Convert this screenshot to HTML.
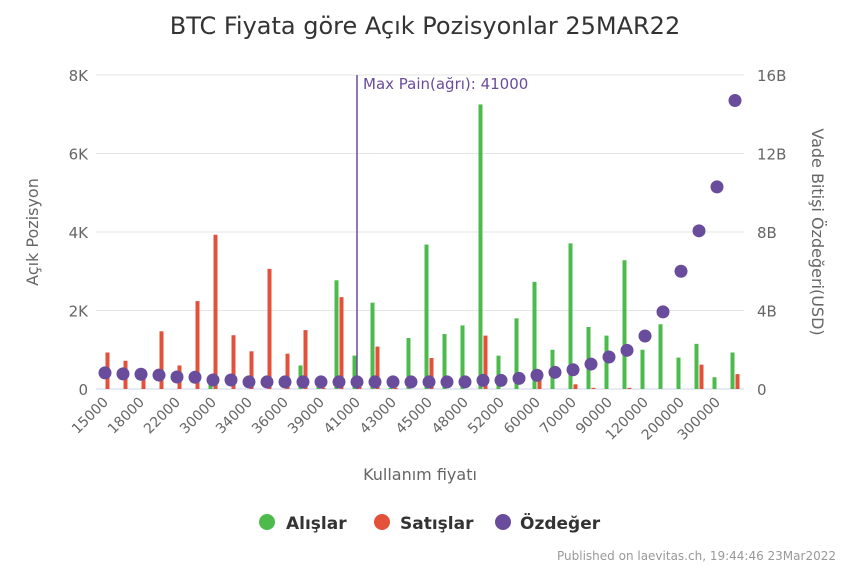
<!DOCTYPE html>
<html><head><meta charset="utf-8"><style>
body{margin:0;background:#fff;font-family:"Liberation Sans","DejaVu Sans",sans-serif;}
svg text{font-family:"DejaVu Sans","Liberation Sans",sans-serif;}
</style></head><body>
<svg id="c" width="850" height="567" xmlns="http://www.w3.org/2000/svg">
<text x="425" y="34" text-anchor="middle" font-size="24" fill="#333">BTC Fiyata göre Açık Pozisyonlar 25MAR22</text>
<g id="grid"></g><g id="bars"></g><g id="dots"></g><g id="axes"></g>
<text transform="translate(38,232) rotate(-90)" text-anchor="middle" font-size="16" fill="#666">Açık Pozisyon</text>
<text transform="translate(812,232) rotate(90)" text-anchor="middle" font-size="16" fill="#666">Vade Bitişi Özdeğeri(USD)</text>
<text x="420" y="480" text-anchor="middle" font-size="16" fill="#666">Kullanım fiyatı</text>
<g>
<g><circle cx="267" cy="522" r="8" fill="#4cbb4c"/><text x="286" y="529" font-size="17" font-weight="bold" fill="#333">Alışlar</text></g>
<g><circle cx="382" cy="522" r="8" fill="#e4513a"/><text x="400" y="529" font-size="17" font-weight="bold" fill="#333">Satışlar</text></g>
<g><circle cx="503" cy="522" r="8" fill="#6a4c9c"/><text x="520" y="529" font-size="17" font-weight="bold" fill="#333">Özdeğer</text></g>
</g>
<text x="836" y="560" text-anchor="end" font-size="12" fill="#999">Published on laevitas.ch, 19:44:46 23Mar2022</text>
</svg>
<script>
const categories=[15000,16000,18000,20000,22000,25000,30000,32000,34000,35000,36000,38000,39000,40000,41000,42000,43000,44000,45000,46000,48000,50000,52000,55000,60000,65000,70000,80000,90000,100000,120000,150000,200000,250000,300000,400000];
const buys=[0,0,0,0,0,0,100,0,0,0,0,600,50,2770,850,2200,30,1300,3680,1400,1620,7250,850,1800,2730,1000,3710,1580,1360,3280,1000,1650,800,1150,300,930];
const sells=[930,720,300,1470,600,2240,3930,1370,960,3060,900,1500,30,2340,50,1080,30,0,790,0,0,1360,0,0,300,0,120,30,0,30,0,0,0,620,0,380];
const notional=[0.82,0.77,0.75,0.71,0.61,0.6,0.46,0.46,0.36,0.36,0.36,0.36,0.36,0.36,0.36,0.36,0.36,0.36,0.36,0.36,0.36,0.44,0.44,0.54,0.7,0.85,0.98,1.27,1.63,1.97,2.7,3.93,6.0,8.06,10.3,14.7];
const leftTicks=[0,2000,4000,6000,8000];
const leftLabels=["0","2K","4K","6K","8K"];
const rightTicks=[0,4,8,12,16];
const rightLabels=["0","4B","8B","12B","16B"];
const maxPainIndex=14;
const NS="http://www.w3.org/2000/svg";
const x0=96,x1=744,yTop=75,yBot=389;
const step=(x1-x0)/categories.length;
const xc=i=>x0+step*(i+0.5);
const yL=v=>yBot-(v/8000)*(yBot-yTop);
const yR=v=>yBot-(v/16)*(yBot-yTop);
function mk(tag,attrs,parent){const e=document.createElementNS(NS,tag);for(const k in attrs)e.setAttribute(k,attrs[k]);document.getElementById(parent).appendChild(e);return e;}
leftTicks.forEach((t,i)=>{
 const l=mk('line',{x1:x0,x2:x1,y1:yL(t),y2:yL(t),stroke:i==0?'#ccd6eb':'#e6e6e6','stroke-width':1},'grid');
 
 
 const tx=mk('text',{x:88,y:yL(t)+6,'text-anchor':'end','font-size':15,fill:'#666'},'axes');tx.textContent=leftLabels[i];
 
 
});
rightTicks.forEach((t,i)=>{
 const tx=mk('text',{x:757,y:yR(t)+6,'font-size':15,fill:'#666'},'axes');tx.textContent=rightLabels[i];
 
 
});
categories.forEach((c,i)=>{
 if(i%2==0){
  const tx=mk('text',{transform:`translate(${xc(i)+4},${yBot+14}) rotate(-45)`,'text-anchor':'end','font-size':14,fill:'#666'},'axes');tx.textContent=c;
  
  
 }
 if(buys[i]>0){const r=mk('rect',{x:xc(i)-4.5,y:yL(buys[i]),width:4,height:yBot-yL(buys[i]),fill:'#4cbb4c'},'bars');
  
  }
 if(sells[i]>0){const r=mk('rect',{x:xc(i)+0.5,y:yL(sells[i]),width:4,height:yBot-yL(sells[i]),fill:'#e4513a'},'bars');
  
  }
 const d=mk('circle',{cx:xc(i),cy:yR(notional[i]),r:6.5,fill:'#6a4c9c'},'dots');
 
 
});
const mp=mk('line',{x1:xc(maxPainIndex),x2:xc(maxPainIndex),y1:yTop,y2:yBot,stroke:'#6a4c9c','stroke-width':1.5},'axes');


const mt=mk('text',{x:xc(maxPainIndex)+6,y:89,'font-size':15,fill:'#6a4c9c'},'axes');mt.textContent='Max Pain(ağrı): '+categories[maxPainIndex];


</script>
</body></html>
